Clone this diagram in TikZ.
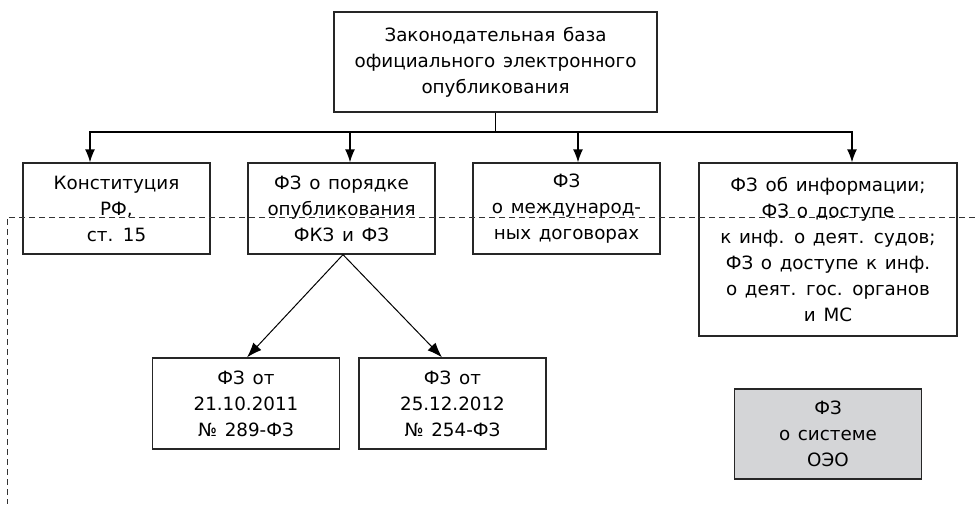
\documentclass[tikz,border=0pt]{standalone}
\usepackage{fontspec}
\setmainfont{DejaVu Sans}
\usetikzlibrary{arrows.meta,positioning}
\definecolor{cinza}{HTML}{D4D5D7}
\newcommand\fontecaixa{\fontsize{18.3}{26}\selectfont\spaceskip=0.42em plus 0.1em\relax}
\tikzset{
  caixa/.style={draw=black!85, line width=1.3pt, align=center, inner sep=0pt,
    font=\fontecaixa},
  caixap/.style={caixa, minimum width=187pt, minimum height=91pt},
  seta/.style={-{Latex[length=15pt,width=11pt]}, line width=1pt},
  setabus/.style={-{Latex[length=13pt,width=10pt]}, line width=1.3pt},
}
\begin{document}
\begin{tikzpicture}[x=1pt,y=-1pt]
  \useasboundingbox (0,0) rectangle (975,504);
  % caixa superior
  \node[caixa, minimum width=323pt, minimum height=100pt] (base) at (495.5,62)
    {Законодательная база\\официального электронного\\опубликования};
  % primeiro nivel
  \node[caixap] (const) at (116.5,208.5) {Конституция\\РФ,\\ст. 15};
  \node[caixap] (poryadok) at (341.5,208.5) {ФЗ о порядке\\опубликования\\ФКЗ и ФЗ};
  \node[caixap] (dogovor) at (566.5,208.5) {ФЗ\\о международ-\\ных договорах};
  \node[caixa, minimum width=258pt, minimum height=173pt] (inform) at (828,249.5)
    {ФЗ об информации;\\ФЗ о доступе\\к инф. о деят. судов;\\ФЗ о доступе к инф.\\о деят. гос. органов\\и МС};
  % segundo nivel
  \node[caixap] (fz289) at (246,403.5) {ФЗ от\\21.10.2011\\№ 289-ФЗ};
  \node[caixap] (fz254) at (452.5,403.5) {ФЗ от\\25.12.2012\\№ 254-ФЗ};
  \node[caixap, fill=cinza, minimum height=90pt] (oeo) at (828,434) {ФЗ\\о системе\\ОЭО};
  % ligacoes
  \coordinate (bus) at (495.5,132);
  \draw[line width=1.3pt] (base.south) -- (bus);
  \draw[setabus] (bus) -| ([xshift=-26.5pt]const.north);
  \draw[setabus] (bus) -| ([xshift=8.5pt]poryadok.north);
  \draw[setabus] (bus) -| ([xshift=11.5pt]dogovor.north);
  \draw[setabus] (bus) -| ([xshift=24pt]inform.north);
  \draw[seta] ([xshift=1.5pt]poryadok.south) -- ([xshift=1pt]fz289.north);
  \draw[seta] ([xshift=1.5pt]poryadok.south) -- ([xshift=-10.5pt]fz254.north);
  % linha tracejada
  \coordinate (tr1) at (975,217);
  \coordinate (tr2) at (7,217);
  \coordinate (tr3) at (7,504);
  \draw[black!80, line width=0.9pt, dash pattern=on 6pt off 4pt] (tr1) -- (tr2) -- (tr3);
\end{tikzpicture}
\end{document}
